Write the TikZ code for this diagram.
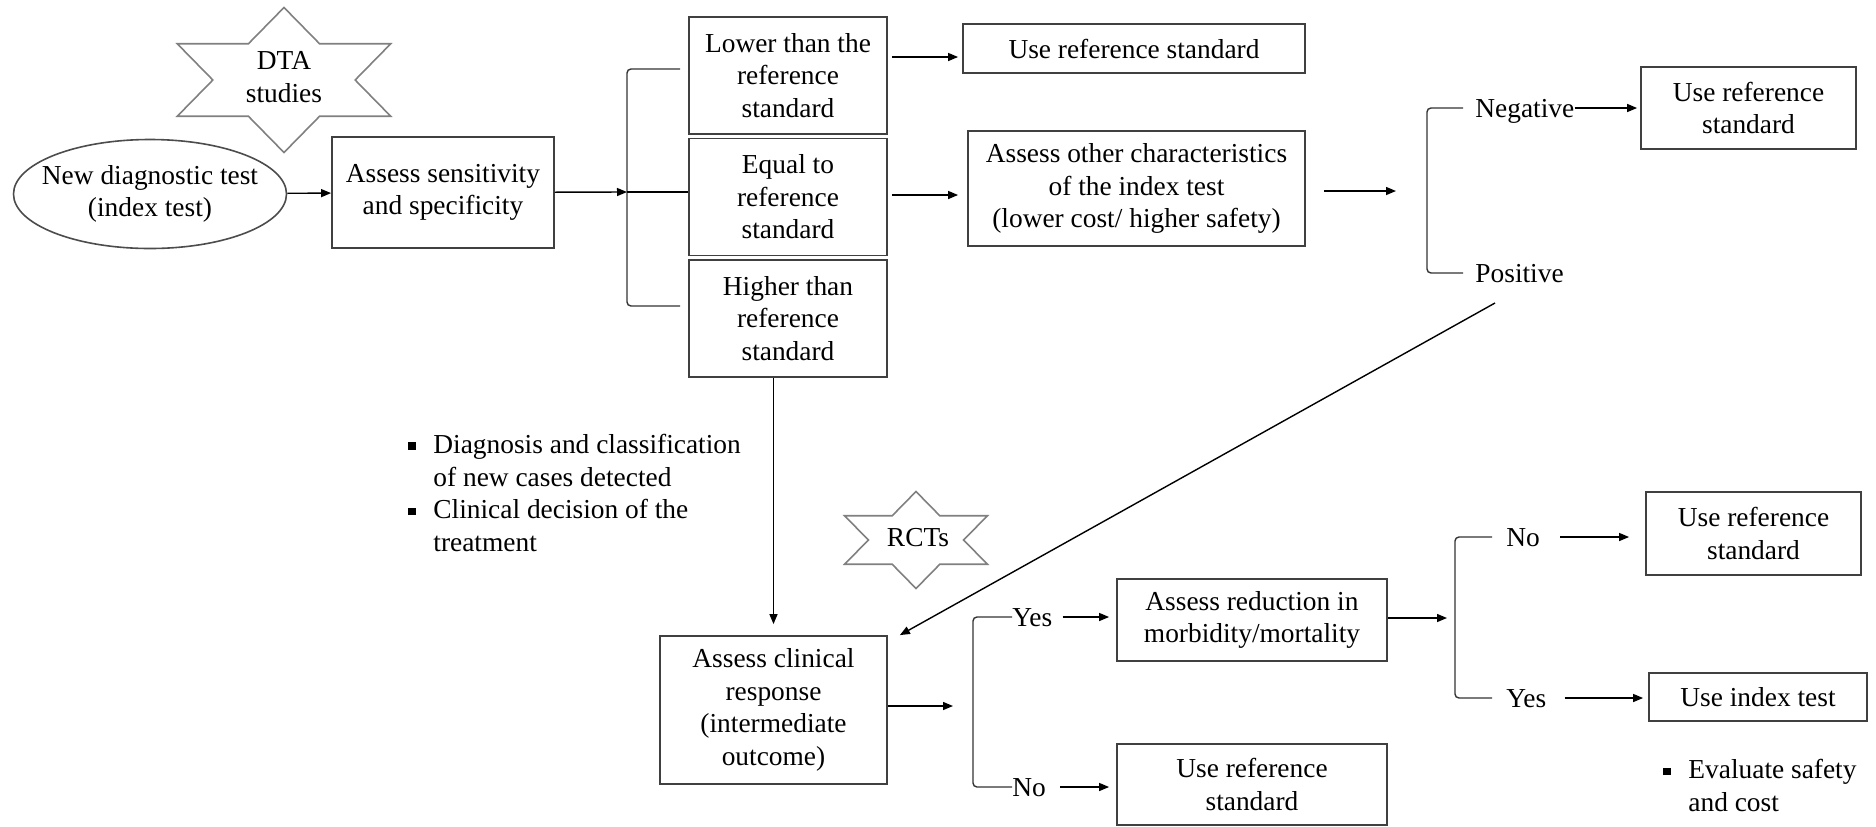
\documentclass[tikz,border=0pt]{standalone}
\usepackage{fontspec}
\setmainfont{Liberation Serif}
\usetikzlibrary{shapes.geometric,arrows.meta,calc}

\newcommand{\itemsq}{\makebox[12.5pt][l]{\rule[1.8pt]{3.8pt}{3.8pt}}}
\newcommand{\itemind}{\hspace*{12.5pt}}
% six-pointed star, stretched sideways: centre, outer radius
\newcommand{\hexstar}[2]{%
  \pgfmathsetmacro\ri{#2/sqrt(3)}
  \draw[starline, shift={(#1)}] (90:{1.7*#2} and #2)
    \foreach \a in {120,180,...,420} {-- (\a:{1.7*\ri} and \ri) -- ({\a+30}:{1.7*#2} and #2)} -- cycle;}

\tikzset{
  box/.style={draw=black!75, line width=0.9pt, align=center, inner sep=0pt},
  lbl/.style={inner sep=0pt, anchor=west, text height=9pt, text depth=0pt},
  note/.style={inner sep=0pt, anchor=west, align=left},
  arr/.style={-{Triangle[length=5pt,width=4pt]}, line width=0.7pt},
  brk/.style={line width=0.7pt, black!80, rounded corners=2pt},
  starline/.style={draw=black!50, line width=0.8pt}
}

\begin{document}
\begin{tikzpicture}[x=0.5pt, y=-0.5pt, font=\fontsize{13.7}{16.3}\selectfont]
  \useasboundingbox (0,0) rectangle (1876,826);

  % first stage
  \hexstar{284,80}{72.5}
  \node[align=center, inner sep=0pt] (dta) at (284,77) {DTA\\studies};
  \node[ellipse, draw=black!70, line width=0.8pt, minimum width=136.5pt, minimum height=54.5pt,
        align=center, inner xsep=-8pt, inner ysep=0pt] (newtest) at (150,194) {New diagnostic test\\(index test)};
  \node[box, minimum width=111pt, minimum height=55.5pt] (sens) at (443,192.5) {Assess sensitivity\\and specificity};

  \node[box, minimum width=99pt, minimum height=58.5pt] (lower) at (788,75.5) {Lower than the\\reference\\standard};
  \node[box, minimum width=99pt, minimum height=58.5pt] (equal) at (788,197) {Equal to\\reference\\standard};
  \node[box, minimum width=99pt, minimum height=58.5pt] (higher) at (788,318.5) {Higher than\\reference\\standard};

  \node[box, minimum width=171pt, minimum height=24.5pt] (useref1) at (1134,48.5) {Use reference standard};
  \node[box, minimum width=168.5pt, minimum height=57.5pt] (other) at (1136.5,188.5)
    {Assess other characteristics\\of the index test\\(lower cost/ higher safety)};
  \node[lbl] (neg) at (1475,108) {Negative};
  \node[lbl] (pos) at (1475,273) {Positive};
  \node[box, minimum width=107.5pt, minimum height=41pt] (useref2) at (1748.5,108) {Use reference\\standard};

  % second stage
  \node[note] (notesl) at (408,493)
    {\itemsq Diagnosis and classification\\\itemind of new cases detected\\\itemsq Clinical decision of the\\\itemind treatment};
  \hexstar{916,540}{48.5}
  \node[inner sep=0pt] (rcts) at (918,538) {RCTs};
  \node[box, minimum width=113.5pt, minimum height=74pt] (clinical) at (773.5,710)
    {Assess clinical\\response\\(intermediate\\outcome)};
  \node[lbl] (yes1) at (1012,617) {Yes};
  \node[lbl] (no1) at (1012,787) {No};
  \node[box, minimum width=135pt, minimum height=41pt] (reduce) at (1252,620) {Assess reduction in\\morbidity/mortality};
  \node[box, minimum width=135pt, minimum height=40.5pt] (useref4) at (1252,784.5) {Use reference\\standard};
  \node[lbl] (no2) at (1506,537) {No};
  \node[lbl] (yes2) at (1506,698) {Yes};
  \node[box, minimum width=107.5pt, minimum height=41.5pt] (useref3) at (1753.5,533.5) {Use reference\\standard};
  \node[box, minimum width=109pt, minimum height=24pt] (indextest) at (1758,697) {Use index test};
  \node[note] (notesr) at (1663,785.5) {\itemsq Evaluate safety\\\itemind and cost};

  % connectors
  \coordinate (b1) at (627,192);
  \coordinate (r1) at (0,57);
  \coordinate (r2) at (0,195);
  \coordinate (b2in) at (1396,191);
  \coordinate (b3in) at (953,706);
  \coordinate (b4in) at (1447,618);

  \draw[arr] (newtest) -- (sens);
  \draw[arr] (sens) -- (b1);
  \draw[brk] (680,69) -| (627,306) -- (680,306);
  \draw[line width=0.7pt] (b1) -- (equal.west |- b1);
  \draw[arr, shorten <=2pt, shorten >=2pt] (lower.east |- r1) -- (useref1.west |- r1);
  \draw[arr, shorten <=2pt, shorten >=4.5pt] (equal.east |- r2) -- (other.west |- r2);
  \draw[arr] (other.east |- b2in) ++(18,0) -- (b2in);
  \draw[brk] ([xshift=-6pt]neg.west) -- ++(-36,0) |- ([xshift=-6pt]pos.west);
  \draw[arr, shorten >=1.5pt] (neg.east) -- (useref2.west |- neg.east);
  \draw[arr] ([shift={(10pt,-15pt)}]pos.west) -- ([xshift=6pt]clinical.north east);
  \draw[arr, shorten >=5.5pt] (higher.south -| clinical.north) -- (clinical.north);

  \draw[arr] (clinical.east |- b3in) -- (b3in);
  \draw[brk] (yes1.west) -- ++(-39,0) |- (no1.west);
  \draw[arr, shorten <=5pt, shorten >=3.5pt] (yes1.east) -- (reduce.west |- yes1.east);
  \draw[arr, shorten <=7pt, shorten >=3.5pt] (no1.east) -- (useref4.west |- no1.east);
  \draw[arr] (reduce.east |- b4in) -- (b4in);
  \draw[brk] ([xshift=-7pt]no2.west) -- ++(-37,0) |- ([xshift=-7pt]yes2.west);
  \draw[arr, shorten <=10pt, shorten >=8pt] (no2.east) -- (useref3.west |- no2.east);
  \draw[arr, shorten <=9pt, shorten >=2.5pt] (yes2.east) -- (indextest.west |- yes2.east);
\end{tikzpicture}
\end{document}
